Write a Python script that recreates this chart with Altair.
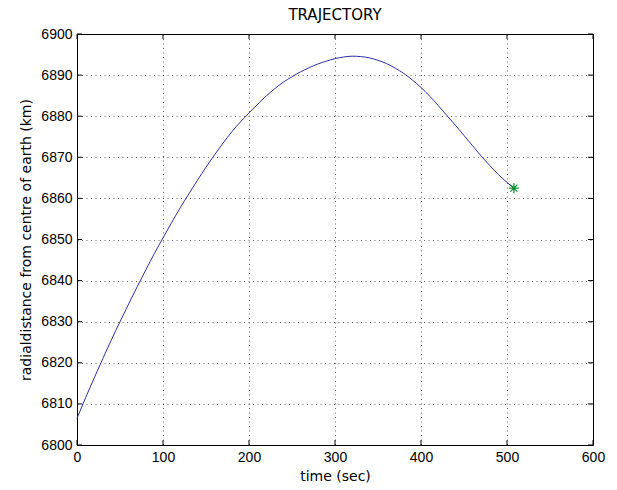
import altair as alt
import pandas as pd

time_sec = [0, 10, 20, 30, 40, 50, 60, 70, 80, 90, 100, 110, 120, 130, 140, 150,
            160, 170, 180, 190, 200, 210, 220, 230, 240, 250, 260, 270, 280, 290,
            300, 310, 320, 330, 340, 350, 360, 370, 380, 390, 400, 410, 420, 430,
            440, 450, 460, 470, 480, 490, 500, 508]
radial_km = [6806.5, 6811.5, 6816.3, 6821.0, 6825.6, 6830.0, 6834.3, 6838.5, 6842.6,
             6846.6, 6850.4, 6854.1, 6857.7, 6861.1, 6864.4, 6867.6, 6870.6, 6873.5,
             6876.2, 6878.6, 6880.8, 6882.9, 6884.9, 6886.7, 6888.3, 6889.6, 6890.8,
             6891.8, 6892.7, 6893.4, 6894.0, 6894.4, 6894.6, 6894.5, 6894.2, 6893.6,
             6892.8, 6891.7, 6890.4, 6888.8, 6887.0, 6884.9, 6882.6, 6880.2, 6877.8,
             6875.3, 6872.8, 6870.3, 6868.0, 6865.8, 6863.9, 6862.5]
end_time = [508]
end_radial = [6862.5]
x_ticks = [0, 100, 200, 300, 400, 500, 600]
y_ticks = [6800, 6810, 6820, 6830, 6840, 6850, 6860, 6870, 6880, 6890, 6900]

W, H = 516, 411

df = pd.DataFrame({"t": time_sec, "r": radial_km})
df_end = pd.DataFrame({"t": end_time, "r": end_radial})
df_xt = pd.DataFrame({"t": x_ticks})
df_yt = pd.DataFrame({"r": y_ticks})

xscale = alt.Scale(domain=[0, 600], nice=False, zero=False)
yscale = alt.Scale(domain=[6800, 6900], nice=False, zero=False)

xaxis = alt.Axis(values=x_ticks, title="time (sec)", grid=True, ticks=False,
                 domain=False, labelFlush=False, labelOverlap=False,
                 labelPadding=5, titlePadding=5, format="d")
yaxis = alt.Axis(values=y_ticks, title="radialdistance from centre of earth (km)",
                 grid=True, ticks=False, domain=False, labelFlush=False,
                 labelOverlap=False, labelPadding=5, titlePadding=7, format="d")

line = alt.Chart(df).mark_line(color="#2f2fa5", strokeWidth=1, interpolate="monotone").encode(
    x=alt.X("t:Q", scale=xscale, axis=xaxis),
    y=alt.Y("r:Q", scale=yscale, axis=yaxis),
)

star_path = "M-1,0L1,0M0,-1L0,1M-0.7,-0.7L0.7,0.7M-0.7,0.7L0.7,-0.7"
star = alt.Chart(df_end).mark_point(shape=star_path, size=100, filled=False,
                                    color="#109030", strokeWidth=1.3, opacity=1).encode(
    x=alt.X("t:Q", scale=xscale),
    y=alt.Y("r:Q", scale=yscale),
)

tick_color = "#000000"
bt = alt.Chart(df_xt).mark_rule(color=tick_color, strokeWidth=1).encode(
    x=alt.X("t:Q", scale=xscale), y=alt.value(H), y2=alt.value(H - 5))
tt = alt.Chart(df_xt).mark_rule(color=tick_color, strokeWidth=1).encode(
    x=alt.X("t:Q", scale=xscale), y=alt.value(0), y2=alt.value(5))
lt = alt.Chart(df_yt).mark_rule(color=tick_color, strokeWidth=1).encode(
    y=alt.Y("r:Q", scale=yscale), x=alt.value(0), x2=alt.value(5))
rt = alt.Chart(df_yt).mark_rule(color=tick_color, strokeWidth=1).encode(
    y=alt.Y("r:Q", scale=yscale), x=alt.value(W), x2=alt.value(W - 5))

chart = alt.layer(line, star, bt, tt, lt, rt).properties(
    width=W, height=H,
    title=alt.TitleParams("TRAJECTORY", font="DejaVu Sans", fontSize=15,
                          fontWeight="normal", color="#000000", offset=4),
    autosize=alt.AutoSizeParams(type="none"),
    padding={"left": 77, "top": 34, "right": 24, "bottom": 45},
    background="white",
).configure_view(
    stroke="#000000", strokeWidth=1
).configure_axis(
    labelFont="Liberation Sans", labelFontSize=14, labelColor="#000000",
    titleFont="DejaVu Sans", titleFontSize=14, titleColor="#000000",
    titleFontWeight="normal",
    gridColor="#000000", gridOpacity=0.6, gridDash=[1, 3.5], gridWidth=1,
)

chart.save("out.html", embed_options={"renderer": "svg", "actions": False})
